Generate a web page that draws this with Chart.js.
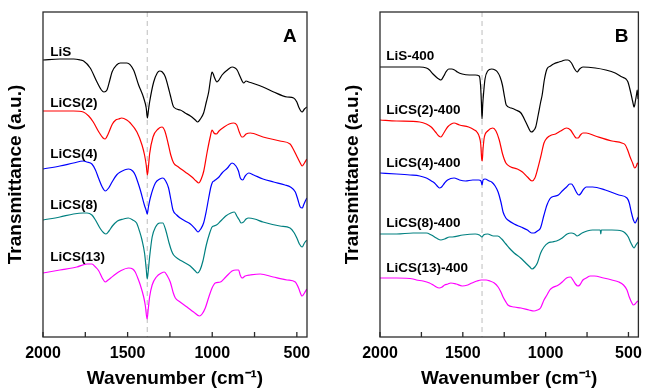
<!DOCTYPE html>
<html>
<head>
<meta charset="utf-8">
<script src="https://cdn.jsdelivr.net/npm/chart.js@4.4.1/dist/chart.umd.min.js"></script>
<style>
  html, body { margin: 0; padding: 0; background: #fff; }
  #wrap { position: relative; width: 649px; height: 390px; }
  canvas { position: absolute; top: 0; }
</style>
</head>
<body>
<div id="wrap">
  <canvas id="chartA" width="337" height="390" style="left:0"></canvas>
  <canvas id="chartB" width="312" height="390" style="left:337px"></canvas>
</div>
<script>
// FTIR spectra, [wavenumber, transmittance (a.u., offset)]

// panel A
const liS = [[2000,277],[1900,278],[1819,278],[1780,277],[1760,276],[1721,269],[1681,255],[1655,247],[1640,245],[1622,247],[1605,257],[1592,265],[1565,272],[1543,274],[1504,274],[1465,267],[1435,252],[1405,239],[1390,229],[1383,219],[1376,228],[1370,235],[1346,255],[1325,264],[1311,266],[1295,265],[1277,260],[1260,250],[1248,242],[1228,230],[1189,227],[1160,224],[1129,221],[1100,217],[1086,215],[1070,218],[1051,224],[1035,235],[1021,245],[1008,260],[1001,265],[994,263],[988,260],[972,255],[960,257],[942,262],[910,267],[883,270],[865,269],[853,267],[834,260],[820,255],[814,254],[800,256],[785,255],[765,254],[700,250],[637,245],[558,240],[519,239],[500,235],[489,230],[469,225],[455,228],[441,230]];
const liCS2 = [[2000,226],[1900,226],[1820,226],[1762,225],[1730,221],[1703,215],[1670,205],[1645,199],[1633,198],[1615,203],[1590,213],[1570,217],[1553,218],[1535,219],[1505,217],[1484,214],[1445,205],[1415,192],[1400,182],[1390,172],[1383,162],[1376,172],[1370,183],[1350,200],[1320,208],[1297,210],[1280,206],[1260,193],[1245,182],[1228,174],[1200,170],[1160,165],[1120,160],[1095,156],[1080,154],[1065,158],[1050,166],[1030,185],[1012,200],[1001,207],[990,204],[976,203],[960,206],[930,210],[900,213],[873,214],[855,212],[840,205],[825,200],[818,200],[800,203],[775,204],[700,200],[600,196],[540,193],[528,190],[498,180],[480,174],[469,171],[455,174],[441,178]];
const liCS4 = [[2000,168],[1900,171],[1820,174],[1762,176],[1740,175],[1711,173],[1690,167],[1672,159],[1650,150],[1632,146],[1612,149],[1592,155],[1565,162],[1543,165],[1494,168],[1470,166],[1455,162],[1440,155],[1425,147],[1401,132],[1391,127],[1384,123],[1377,130],[1366,139],[1336,154],[1310,158],[1291,159],[1275,156],[1258,149],[1245,138],[1232,127],[1210,122],[1189,119],[1160,116],[1129,113],[1100,108],[1084,105],[1068,108],[1051,114],[1035,126],[1021,139],[1008,150],[998,155],[990,156],[982,157],[960,160],[942,164],[910,169],[883,174],[860,171],[845,166],[834,159],[820,157],[805,161],[785,164],[755,162],[700,158],[637,155],[570,152],[538,150],[509,145],[495,138],[480,130],[468,129],[460,132],[450,136],[441,139]];
const liCS8 = [[2000,117],[1900,120],[1820,123],[1762,124],[1740,124],[1711,122],[1690,117],[1660,108],[1640,104],[1628,103],[1610,106],[1590,111],[1560,116],[1525,118],[1496,119],[1470,117],[1447,114],[1430,106],[1415,97],[1400,84],[1390,68],[1384,58],[1378,66],[1370,80],[1355,100],[1335,110],[1310,114],[1292,114],[1275,107],[1255,94],[1240,86],[1228,82],[1200,78],[1170,75],[1130,71],[1100,66],[1087,64],[1072,67],[1055,76],[1035,92],[1015,104],[1001,110],[990,111],[975,112],[950,116],[920,121],[890,124],[869,125],[855,121],[840,117],[830,114],[815,115],[800,118],[785,119],[750,118],[700,115],[600,111],[540,109],[515,104],[500,99],[485,93],[469,90],[455,94],[441,97]];
const liCS13 = [[2000,64],[1900,67],[1800,70],[1740,73],[1711,73],[1690,70],[1670,66],[1650,59],[1632,55],[1615,57],[1600,59],[1570,63],[1543,66],[1494,69],[1470,68],[1455,65],[1440,59],[1425,52],[1405,40],[1395,31],[1385,18],[1378,28],[1370,40],[1355,52],[1330,60],[1300,64],[1283,65],[1265,61],[1248,55],[1230,44],[1218,39],[1190,35],[1149,30],[1110,25],[1075,21],[1060,23],[1041,29],[1020,40],[1001,49],[982,54],[952,55],[920,60],[883,66],[860,67],[844,67],[835,62],[824,59],[805,61],[775,62],[716,63],[640,60],[558,57],[509,55],[490,49],[469,41],[455,44],[441,48]];

// panel B (calcined at 400)
const liS400 = [[2000,270],[1900,270],[1760,270],[1720,269],[1701,267],[1680,263],[1661,260],[1645,258],[1632,257],[1615,261],[1602,265],[1585,268],[1567,268],[1550,267],[1533,265],[1504,263],[1460,262],[1425,262],[1401,261],[1393,252],[1388,235],[1384,218],[1380,232],[1374,245],[1366,258],[1350,266],[1326,268],[1305,267],[1291,265],[1275,260],[1261,252],[1248,240],[1238,232],[1208,229],[1180,227],[1149,224],[1120,215],[1100,208],[1088,205],[1075,206],[1060,210],[1045,222],[1030,235],[1021,242],[1008,257],[992,268],[970,271],[952,273],[920,275],[900,276],[883,277],[865,277],[844,274],[825,268],[810,265],[795,268],[775,270],[700,269],[637,267],[580,264],[538,260],[515,258],[503,255],[493,249],[483,242],[475,236],[466,230],[458,236],[450,244],[447,247],[442,238]];
const liCS2_400 = [[2000,217],[1900,216],[1760,215],[1720,213],[1691,210],[1665,205],[1645,201],[1632,200],[1615,204],[1592,210],[1570,213],[1553,214],[1520,212],[1465,210],[1430,207],[1415,205],[1400,200],[1392,193],[1386,178],[1383,176],[1378,188],[1370,200],[1350,206],[1319,209],[1300,206],[1280,197],[1260,183],[1240,174],[1210,170],[1171,168],[1140,165],[1110,160],[1082,156],[1065,159],[1050,167],[1030,180],[1010,194],[992,199],[964,202],[940,203],[910,206],[874,209],[850,207],[830,202],[815,199],[804,199],[790,202],[775,204],[755,204],[700,201],[600,196],[540,194],[519,192],[505,187],[490,180],[475,174],[462,169],[452,171],[446,174],[441,173]];
const liCS4_400 = [[2000,164],[1900,163],[1819,162],[1760,161],[1720,159],[1690,156],[1671,154],[1655,151],[1642,149],[1628,150],[1610,154],[1592,157],[1553,159],[1520,157],[1484,156],[1440,157],[1405,157],[1390,156],[1384,152],[1378,157],[1366,158],[1340,156],[1326,155],[1305,151],[1287,145],[1270,135],[1257,125],[1240,119],[1228,117],[1190,113],[1149,110],[1110,107],[1085,104],[1070,104],[1050,106],[1031,109],[1010,122],[992,132],[975,138],[962,140],[923,142],[900,146],[874,150],[855,153],[844,153],[830,150],[815,145],[800,142],[790,143],[770,148],[755,150],[716,150],[640,147],[558,142],[509,139],[495,134],[483,125],[470,117],[460,114],[450,117],[441,120]];
const liCS8_400 = [[2000,103],[1900,103],[1800,104],[1720,104],[1690,102],[1660,99],[1632,97],[1610,98],[1580,100],[1563,100],[1500,102],[1425,103],[1400,102],[1384,100],[1375,102],[1350,103],[1315,101],[1290,101],[1265,98],[1240,93],[1220,89],[1190,84],[1151,79],[1120,74],[1095,70],[1082,68],[1065,70],[1050,74],[1030,84],[1010,90],[985,94],[960,95],[934,96],[900,99],[870,103],[846,104],[825,103],[810,101],[797,102],[780,104],[750,106],[717,107],[670,107],[667,103],[664,107],[600,107],[540,106],[520,104],[501,100],[485,94],[466,89],[455,92],[441,95]];
const liCS13_400 = [[2000,59],[1900,59],[1800,58],[1780,57],[1740,56],[1701,54],[1670,51],[1642,49],[1625,50],[1610,52],[1590,53],[1573,54],[1540,53],[1504,51],[1470,52],[1445,54],[1415,56],[1389,57],[1360,57],[1336,56],[1310,54],[1287,50],[1270,45],[1257,40],[1240,35],[1228,32],[1190,30],[1149,29],[1100,27],[1070,26],[1050,27],[1031,29],[1010,37],[992,42],[975,47],[962,49],[923,52],[900,55],[874,59],[850,60],[835,57],[820,53],[805,51],[794,52],[775,57],[755,59],[730,61],[706,61],[650,59],[600,57],[558,55],[530,52],[509,47],[495,40],[479,34],[470,32],[460,33],[450,35],[441,36]];

const namesA = ['LiS', 'LiCS(2)', 'LiCS(4)', 'LiCS(8)', 'LiCS(13)'];
const namesB = ['LiS-400', 'LiCS(2)-400', 'LiCS(4)-400', 'LiCS(8)-400', 'LiCS(13)-400'];
const colors = ['#000000', '#ff0000', '#0000ff', '#008080', '#ff00ff'];
const xTicks = [2000, 1500, 1000, 500];
const xMinor = [1750, 1250, 750];
const markLine = 1384;

// label anchors: [wavenumber, y] for each curve name
const labelPosA = [[1957,285],[1957,234],[1957,183],[1957,132],[1957,80]];
const labelPosB = [[1963,281],[1963,227],[1963,174],[1963,114],[1963,69]];

const FONT = "'Liberation Sans', Arial, sans-serif";

const decor = {
  id: 'decor',
  beforeDatasetsDraw(chart) {
    const {ctx, chartArea: a, scales: {x}} = chart;
    const px = x.getPixelForValue(markLine);
    ctx.save();
    ctx.strokeStyle = '#bdbdbd';
    ctx.lineWidth = 1;
    ctx.setLineDash([5, 4]);
    ctx.beginPath();
    ctx.moveTo(px, a.top);
    ctx.lineTo(px, a.bottom);
    ctx.stroke();
    ctx.restore();
  },
  afterDraw(chart, args, opts) {
    const {ctx, chartArea: a, scales: {x, y}} = chart;
    ctx.save();
    // frame
    ctx.strokeStyle = '#2b2b2b';
    ctx.lineWidth = 1.3;
    ctx.strokeRect(a.left, a.top, a.right - a.left, a.bottom - a.top);
    // inward ticks on bottom axis
    ctx.beginPath();
    xTicks.concat(xMinor).forEach(v => {
      const px = x.getPixelForValue(v);
      ctx.moveTo(px, a.bottom);
      ctx.lineTo(px, a.bottom - 5);
    });
    ctx.stroke();
    // curve names
    ctx.fillStyle = '#000';
    ctx.font = 'bold 13.5px ' + FONT;
    ctx.textBaseline = 'middle';
    ctx.textAlign = 'left';
    opts.names.forEach((n, i) => {
      const p = opts.pos[i];
      ctx.fillText(n, x.getPixelForValue(p[0]), y.getPixelForValue(p[1]));
    });
    // panel letter
    ctx.font = 'bold 19px ' + FONT;
    ctx.textAlign = 'center';
    ctx.fillText(opts.letter, x.getPixelForValue(541), y.getPixelForValue(300));
    ctx.restore();
  }
};

function makeChart(id, series, names, pos, letter, padRight) {
  new Chart(document.getElementById(id), {
    type: 'line',
    data: {
      datasets: series.map((s, i) => ({
        label: names[i],
        data: s.map(p => ({x: p[0], y: p[1]})),
        borderColor: colors[i],
        borderWidth: 1.2,
        pointRadius: 0,
        fill: false,
        cubicInterpolationMode: 'monotone'
      }))
    },
    options: {
      responsive: false,
      animation: false,
      layout: { padding: { left: 0, right: padRight, top: 12, bottom: 0 } },
      plugins: {
        legend: { display: false },
        tooltip: { enabled: false },
        decor: { names: names, pos: pos, letter: letter }
      },
      scales: {
        x: {
          type: 'linear',
          reverse: true,
          min: 440,
          max: 2000,
          afterBuildTicks: s => { s.ticks = xTicks.map(v => ({value: v})); },
          afterFit: s => { s.height = 53; },
          grid: { display: false, drawTicks: false },
          border: { display: false },
          ticks: {
            padding: 7,
            color: '#000',
            maxRotation: 0,
            autoSkip: false,
            callback: v => String(v),
            font: { family: FONT, size: 16, weight: 'bold' }
          },
          title: {
            display: true,
            text: 'Wavenumber (cm\u207B\u00B9)',
            color: '#000',
            font: { family: FONT, size: 19, weight: 'bold' },
            padding: { top: 0, bottom: 0 }
          }
        },
        y: {
          min: 0,
          max: 325,
          afterFit: s => { s.width = 43; },
          grid: { display: false, drawTicks: false },
          border: { display: false },
          ticks: { display: false },
          title: {
            display: true,
            text: 'Transmittance (a.u.)',
            color: '#000',
            font: { family: FONT, size: 19, weight: 'bold' },
            padding: { top: 4, bottom: 0 }
          }
        }
      }
    },
    plugins: [decor]
  });
}

makeChart('chartA', [liS, liCS2, liCS4, liCS8, liCS13], namesA, labelPosA, 'A', 30);
makeChart('chartB', [liS400, liCS2_400, liCS4_400, liCS8_400, liCS13_400], namesB, labelPosB, 'B', 5);
</script>
</body>
</html>
